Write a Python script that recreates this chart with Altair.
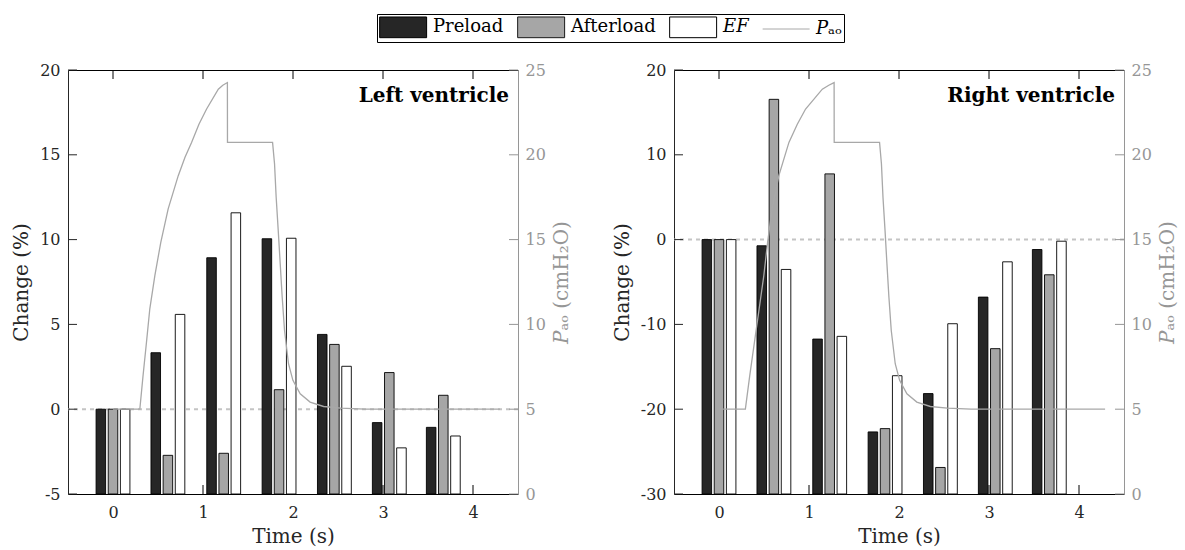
import altair as alt
import pandas as pd

# Sample times of the successive breaths (s)
times = [0, 0.61, 1.23, 1.845, 2.46, 3.07, 3.67]
series = ["Preload", "Afterload", "𝐸𝐹"]
pao_name = "𝑃ₐₒ"

# Relative change (%) per breath, left ventricle
lv_preload = [0, 3.33, 8.93, 10.05, 4.41, -0.79, -1.07]
lv_afterload = [0, -2.72, -2.6, 1.15, 3.82, 2.16, 0.82]
lv_ef = [0, 5.59, 11.58, 10.08, 2.53, -2.28, -1.58]

# Relative change (%) per breath, right ventricle
rv_preload = [0, -0.73, -11.73, -22.68, -18.16, -6.78, -1.17]
rv_afterload = [0, 16.54, 7.75, -22.29, -26.87, -12.86, -4.15]
rv_ef = [0, -3.52, -11.41, -16.05, -9.92, -2.62, -0.19]

# Airway opening pressure (cmH2O) traces
lv_pao_t = [0, 0.298, 0.334, 0.372, 0.409, 0.465, 0.531, 0.613, 0.725, 0.80, 0.873,
            0.955, 1.04, 1.17, 1.22, 1.271, 1.272, 1.773, 1.795, 1.813, 1.836, 1.858,
            1.88, 1.906, 1.95, 1.999, 2.08, 2.19, 2.34, 2.53, 2.8, 4.3]
lv_pao = [5, 5, 6.99, 8.95, 10.92, 12.88, 14.84, 16.81, 18.77, 19.85, 20.73,
          21.8, 22.7, 23.87, 24.1, 24.26, 20.73, 20.73, 19.46, 17.5, 15.53, 13.57,
          11.6, 9.64, 7.68, 6.7, 5.91, 5.42, 5.16, 5.06, 5.0, 5.0]
rv_pao_t = [0, 0.293, 0.342, 0.394, 0.446, 0.498, 0.54, 0.59, 0.665, 0.777, 0.87,
            0.962, 1.148, 1.22, 1.279, 1.28, 1.784, 1.805, 1.822, 1.845, 1.866,
            1.888, 1.914, 1.958, 2.007, 2.088, 2.198, 2.348, 2.538, 2.8, 4.29]
rv_pao = [5, 5, 6.99, 8.95, 10.92, 12.88, 14.84, 16.81, 18.77, 20.73, 21.8,
          22.7, 23.87, 24.1, 24.26, 20.73, 20.73, 19.46, 17.5, 15.53, 13.57,
          11.6, 9.64, 7.68, 6.7, 5.91, 5.42, 5.16, 5.06, 5.0, 5.0]

x_ticks = [0, 1, 2, 3, 4]
lv_ticks = [-5, 0, 5, 10, 15, 20]
rv_ticks = [-30, -20, -10, 0, 10, 20]
pao_ticks = [0, 5, 10, 15, 20, 25]

W, H = 450, 424
FONT = "DejaVu Serif"
DARK = "#262626"
AXGREY = "#969696"
LINEGREY = "#a8a8a8"
TICK = 9

xscale = alt.Scale(domain=[-0.5, 4.5], nice=False, zero=False)
pscale = alt.Scale(domain=[0, 25], nice=False, zero=False)

legend_domain = series + [pao_name]
RECT = "M-1,-1L3.54,-1L3.54,1L-1,1Z"
LSYM = "M-1,0L3.54,0"
legend = alt.Legend(
    title=None, orient="none", legendX=309, legendY=-56,
    direction="horizontal", columns=4, strokeColor="black", fillColor="white",
    padding=2, symbolSize=428, symbolStrokeWidth=1, symbolOpacity=1,
    labelFont=FONT, labelFontSize=18, labelColor="black", labelOffset=32,
    columnPadding=11, rowPadding=0,
)


def panel(name, pre, aft, ef, pt, pv, ydom, yticks, with_legend):
    yscale = alt.Scale(domain=ydom, nice=False, zero=False)
    bars_df = pd.DataFrame({
        "time": times * 3,
        "slot": [0] * len(times) + [1] * len(times) + [2] * len(times),
        "value": pre + aft + ef,
    })

    zero_line = alt.Chart(pd.DataFrame({"value": [0]})).mark_rule(
        color="#c4c4c4", strokeDash=[4, 4], strokeWidth=2
    ).encode(y=alt.Y("value:Q", scale=yscale, axis=None))

    left_ticks = alt.Chart(pd.DataFrame({"value": yticks})).mark_rule(
        color=DARK, strokeWidth=1
    ).encode(
        y=alt.Y("value:Q", scale=yscale, axis=None),
        x=alt.value(0), x2=alt.value(TICK),
    )

    xt = pd.DataFrame({"tick": x_ticks})
    bottom_ticks = alt.Chart(xt).mark_rule(color="black", strokeWidth=1).encode(
        x=alt.X("tick:Q", scale=xscale, axis=None),
        y=alt.value(H), y2=alt.value(H - TICK),
    )
    top_ticks = alt.Chart(xt).mark_rule(color="black", strokeWidth=1).encode(
        x=alt.X("tick:Q", scale=xscale, axis=None),
        y=alt.value(0), y2=alt.value(TICK),
    )

    bars = alt.Chart(bars_df).transform_calculate(
        x0="datum.time + (datum.slot - 1) * 0.135 - 0.053",
        x1="datum.time + (datum.slot - 1) * 0.135 + 0.053",
        fillc="['#262626', '#a6a6a6', '#ffffff'][datum.slot]",
    ).mark_bar(stroke="black", strokeWidth=0.9).encode(
        x=alt.X("x0:Q", scale=xscale, title="Time (s)",
                axis=alt.Axis(orient="bottom", values=x_ticks, ticks=False,
                              domainColor="black", labelColor=DARK,
                              labelFontSize=16, labelPadding=10,
                              titleFontSize=20, titlePadding=6,
                              titleColor=DARK, titleFontWeight="normal")),
        x2="x1:Q",
        y=alt.Y("value:Q", scale=yscale, title="Change (%)",
                axis=alt.Axis(orient="left", values=yticks, ticks=False,
                              domainColor=DARK, labelColor=DARK,
                              labelFontSize=16, labelPadding=8,
                              labelExpr="'' + datum.value",
                              titleFontSize=20, titlePadding=8,
                              titleColor=DARK, titleFontWeight="normal")),
        y2=alt.datum(ydom[0]),
        fill=alt.Fill("fillc:N", scale=None),
    )

    pao_df = pd.DataFrame({"t": pt, "p": pv, "i": list(range(len(pt)))})
    pao_line = alt.Chart(pao_df).mark_line(color=LINEGREY, strokeWidth=1.3).encode(
        x=alt.X("t:Q", scale=xscale, title=None,
                axis=alt.Axis(orient="top", labels=False, ticks=False,
                              domainColor="black")),
        y=alt.Y("p:Q", scale=pscale, title="𝑃ₐₒ (cmH₂O)",
                axis=alt.Axis(orient="right", values=pao_ticks, ticks=False,
                              domainColor=AXGREY, labelColor=AXGREY,
                              labelFontSize=16, labelPadding=7,
                              titleFontSize=20, titlePadding=6,
                              titleAngle=270, titleBaseline="top",
                              titleColor=AXGREY, titleFontWeight="normal")),
        order="i:Q",
    )
    right_ticks = alt.Chart(pd.DataFrame({"p": pao_ticks})).mark_rule(
        color=AXGREY, strokeWidth=1
    ).encode(
        y=alt.Y("p:Q", scale=pscale, axis=None),
        x=alt.value(W - TICK), x2=alt.value(W),
    )
    label = alt.Chart(pd.DataFrame({"name": [name]})).mark_text(
        font=FONT, fontSize=20, fontWeight="bold", align="right",
        baseline="alphabetic", color="black"
    ).encode(text="name:N", x=alt.value(W - 9), y=alt.value(32))

    layers = [zero_line, left_ticks, bottom_ticks, top_ticks, bars,
              pao_line, right_ticks, label]
    if with_legend:
        key = alt.Chart(pd.DataFrame({"series": legend_domain})).mark_point(
            opacity=0, filled=True
        ).encode(
            fill=alt.Fill("series:N", scale=alt.Scale(
                domain=legend_domain,
                range=["#262626", "#a6a6a6", "#ffffff", "transparent"]),
                legend=legend),
            shape=alt.Shape("series:N", scale=alt.Scale(
                domain=legend_domain, range=[RECT, RECT, RECT, LSYM]),
                legend=legend),
            stroke=alt.Stroke("series:N", scale=alt.Scale(
                domain=legend_domain,
                range=["#000000", "#1a1a1a", "#000000", LINEGREY]),
                legend=legend),
        )
        layers.append(key)

    return alt.layer(*layers).resolve_scale(y="independent").resolve_axis(
        x="independent", y="independent"
    ).properties(width=W, height=H)


lv = panel("Left ventricle", lv_preload, lv_afterload, lv_ef,
           lv_pao_t, lv_pao, [-5, 20], lv_ticks, True)
rv = panel("Right ventricle", rv_preload, rv_afterload, rv_ef,
           rv_pao_t, rv_pao, [-30, 20], rv_ticks, False)

chart = alt.hconcat(lv, rv, spacing=156, bounds="flush").properties(
    padding={"left": 11, "top": 13, "right": 5, "bottom": 5}
).configure_view(stroke=None).configure_axis(
    labelFont=FONT, titleFont=FONT, grid=False, domainWidth=1
).configure_legend(labelFont=FONT)

chart.save("out.html", embed_options={"renderer": "svg", "actions": False})
